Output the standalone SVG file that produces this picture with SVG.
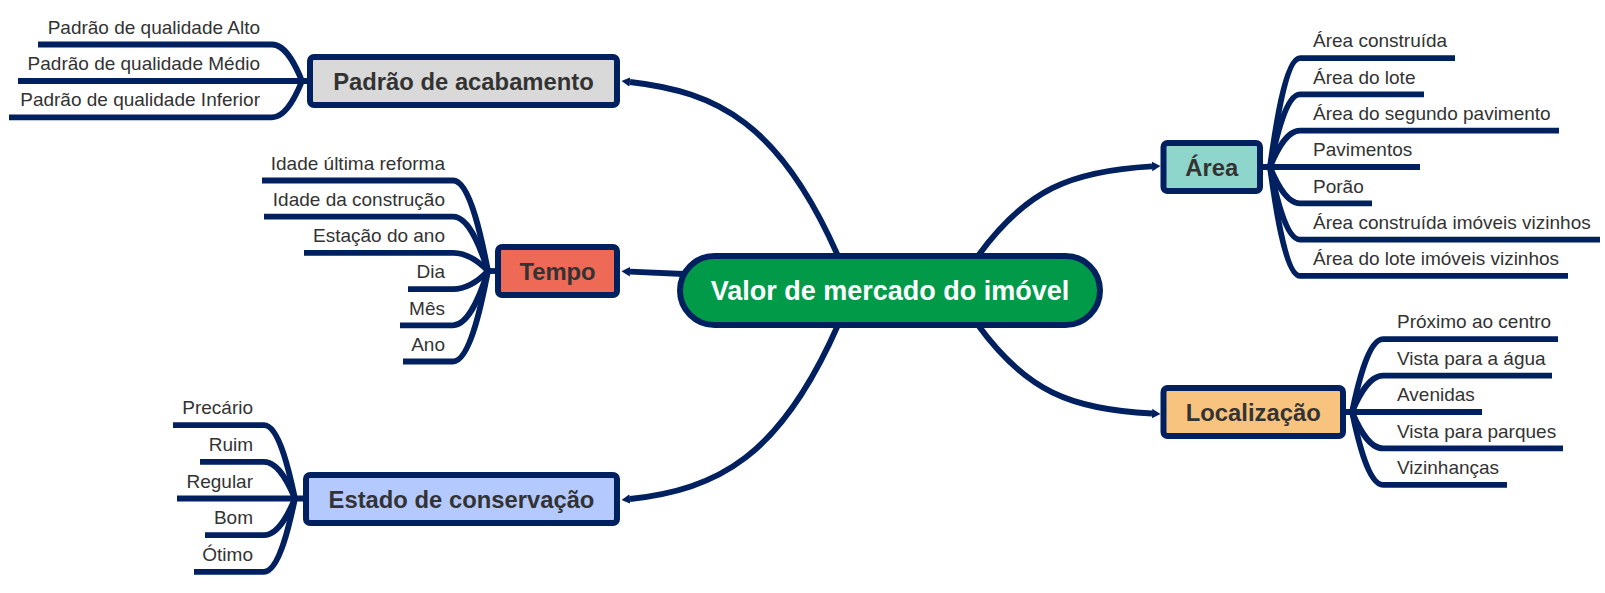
<svg xmlns="http://www.w3.org/2000/svg" width="1605" height="593" viewBox="0 0 1605 593">
<style>
.ln{fill:none;stroke:#002060;stroke-width:5.8;stroke-linecap:butt;stroke-linejoin:round}
.cn{fill:none;stroke:#002060;stroke-width:5.8;marker-end:url(#arr)}
.box{stroke:#002060;stroke-width:6}
.nt{font-family:"Liberation Sans",Arial,sans-serif;font-weight:bold;font-size:23.8px;fill:#333333;text-anchor:middle}
.ct{font-family:"Liberation Sans",Arial,sans-serif;font-size:19px;fill:#333333}
.l{text-anchor:end}
.r{text-anchor:start}
</style>
<defs>
<marker id="arr" markerUnits="userSpaceOnUse" markerWidth="10" markerHeight="12" viewBox="0 -6 10 12" refX="0" refY="0" orient="auto">
<path d="M0,-4.8 L8.5,0 L0,4.8 z" fill="#002060"/>
</marker>
</defs>
<rect width="1605" height="593" fill="#ffffff"/>
<g id="connectors">
<path class="cn" d="M838 256 C780 124,718 92,630 82"/>
<path class="cn" d="M684 274 L630 271.6"/>
<path class="cn" d="M838 325 C780 457,718 489,630 499"/>
<path class="cn" d="M978 256 C1026 190,1070 171,1152 166.4"/>
<path class="cn" d="M978 325 C1026 391,1070 409,1152 413.5"/>
<path class="ln" d="M302 81 C297.5 70,287 44.5,272 44.5 H38"/>
<path class="ln" d="M307 81 H18"/>
<path class="ln" d="M302 81 C297.5 92,287 117.3,272 117.3 H9"/>
<path class="ln" d="M495 271 H488"/>
<path class="ln" d="M488 271 C482.75 243.85,470.5 180.5,453 180.5 H262"/>
<path class="ln" d="M488 271 C482.75 254.71,470.5 216.7,453 216.7 H264"/>
<path class="ln" d="M488 271 C482.75 265.57,470.5 252.9,453 252.9 H304"/>
<path class="ln" d="M488 271 C482.75 276.43,470.5 289.1,453 289.1 H408"/>
<path class="ln" d="M488 271 C482.75 287.29,470.5 325.3,453 325.3 H400"/>
<path class="ln" d="M488 271 C482.75 298.15,470.5 361.5,453 361.5 H403"/>
<path class="ln" d="M295 498.5 C290.35 476.51,279.5 425.2,264 425.2 H173"/>
<path class="ln" d="M295 498.5 C290.35 487.49,279.5 461.8,264 461.8 H200"/>
<path class="ln" d="M303 498.5 H177"/>
<path class="ln" d="M295 498.5 C290.35 509.51,279.5 535.2,264 535.2 H205"/>
<path class="ln" d="M295 498.5 C290.35 520.49,279.5 571.8,264 571.8 H194"/>
<path class="ln" d="M1270 167 C1274.5 134.33,1285 58.1,1300 58.1 H1455"/>
<path class="ln" d="M1270 167 C1274.5 145.22,1285 94.4,1300 94.4 H1424"/>
<path class="ln" d="M1270 167 C1274.5 156.11,1285 130.7,1300 130.7 H1559"/>
<path class="ln" d="M1263 167 H1420"/>
<path class="ln" d="M1270 167 C1274.5 177.89,1285 203.3,1300 203.3 H1372"/>
<path class="ln" d="M1270 167 C1274.5 188.78,1285 239.6,1300 239.6 H1600"/>
<path class="ln" d="M1270 167 C1274.5 199.67,1285 275.9,1300 275.9 H1568"/>
<path class="ln" d="M1352 412 C1356.65 390.16,1367.5 339.2,1383 339.2 H1558"/>
<path class="ln" d="M1352 412 C1356.65 401.08,1367.5 375.6,1383 375.6 H1552"/>
<path class="ln" d="M1346 412 H1482"/>
<path class="ln" d="M1352 412 C1356.65 422.92,1367.5 448.4,1383 448.4 H1563"/>
<path class="ln" d="M1352 412 C1356.65 433.84,1367.5 484.8,1383 484.8 H1507"/>
</g>
<g id="central">
<rect class="box" x="680" y="256" width="420" height="69" rx="34.5" fill="#009A49"/>
<text x="890" y="300" style="font-family:'Liberation Sans',Arial,sans-serif;font-weight:bold;font-size:27px;fill:#ffffff;text-anchor:middle">Valor de mercado do imóvel</text>
</g>
<g id="padrao">
<rect class="box" x="310" y="57" width="307" height="48" rx="4" fill="#D9D9D9"/>
<text class="nt" x="463.5" y="89.5">Padrão de acabamento</text>
</g>
<g id="tempo">
<rect class="box" x="498" y="247" width="119" height="48" rx="4" fill="#EF6A56"/>
<text class="nt" x="557.5" y="279.5">Tempo</text>
</g>
<g id="estado">
<rect class="box" x="306" y="475" width="311" height="48" rx="4" fill="#B4CAFF"/>
<text class="nt" x="461.5" y="507.5">Estado de conservação</text>
</g>
<g id="area">
<rect class="box" x="1163.5" y="143" width="96.5" height="48" rx="4" fill="#8ED5CC"/>
<text class="nt" x="1211.75" y="175.5">Área</text>
</g>
<g id="localizacao">
<rect class="box" x="1163.5" y="388" width="179.5" height="48" rx="4" fill="#F8C37E"/>
<text class="nt" x="1253.25" y="420.5">Localização</text>
</g>
<g id="padrao-alto"><text class="ct l" x="260" y="33.7">Padrão de qualidade Alto</text></g>
<g id="padrao-medio"><text class="ct l" x="260" y="70.2">Padrão de qualidade Médio</text></g>
<g id="padrao-inferior"><text class="ct l" x="260" y="106.4">Padrão de qualidade Inferior</text></g>
<g id="tempo-reforma"><text class="ct l" x="445" y="169.7">Idade última reforma</text></g>
<g id="tempo-construcao"><text class="ct l" x="445" y="205.9">Idade da construção</text></g>
<g id="tempo-estacao"><text class="ct l" x="445" y="242.1">Estação do ano</text></g>
<g id="tempo-dia"><text class="ct l" x="445" y="278.3">Dia</text></g>
<g id="tempo-mes"><text class="ct l" x="445" y="314.5">Mês</text></g>
<g id="tempo-ano"><text class="ct l" x="445" y="350.7">Ano</text></g>
<g id="estado-precario"><text class="ct l" x="253" y="414.4">Precário</text></g>
<g id="estado-ruim"><text class="ct l" x="253" y="451">Ruim</text></g>
<g id="estado-regular"><text class="ct l" x="253" y="487.7">Regular</text></g>
<g id="estado-bom"><text class="ct l" x="253" y="524.4">Bom</text></g>
<g id="estado-otimo"><text class="ct l" x="253" y="561">Ótimo</text></g>
<g id="area-construida"><text class="ct r" x="1313" y="47.3">Área construída</text></g>
<g id="area-lote"><text class="ct r" x="1313" y="83.6">Área do lote</text></g>
<g id="area-segundo"><text class="ct r" x="1313" y="119.9">Área do segundo pavimento</text></g>
<g id="area-pavimentos"><text class="ct r" x="1313" y="156.2">Pavimentos</text></g>
<g id="area-porao"><text class="ct r" x="1313" y="192.5">Porão</text></g>
<g id="area-construida-viz"><text class="ct r" x="1313" y="228.8">Área construída imóveis vizinhos</text></g>
<g id="area-lote-viz"><text class="ct r" x="1313" y="265.1">Área do lote imóveis vizinhos</text></g>
<g id="loc-centro"><text class="ct r" x="1397" y="328.4">Próximo ao centro</text></g>
<g id="loc-agua"><text class="ct r" x="1397" y="364.8">Vista para a água</text></g>
<g id="loc-avenidas"><text class="ct r" x="1397" y="401.2">Avenidas</text></g>
<g id="loc-parques"><text class="ct r" x="1397" y="437.6">Vista para parques</text></g>
<g id="loc-vizinhancas"><text class="ct r" x="1397" y="474">Vizinhanças</text></g>
</svg>
